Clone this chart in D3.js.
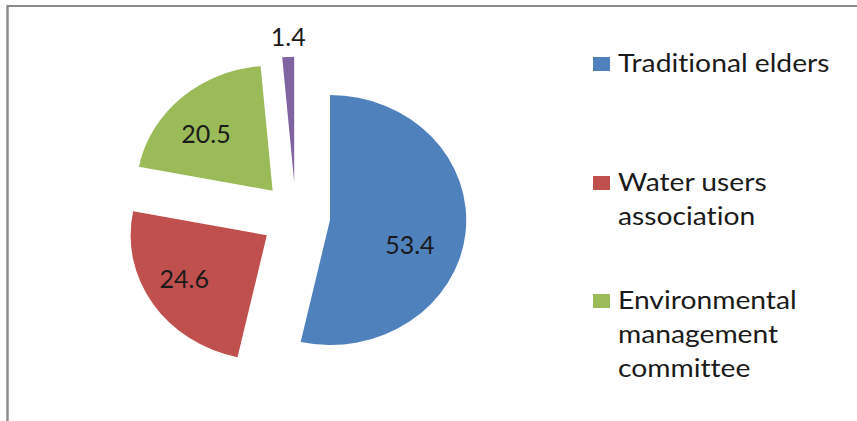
<!DOCTYPE html>
<html>
<head>
<meta charset="utf-8">
<script src="https://cdn.jsdelivr.net/npm/d3@7"></script>
<style>
  html, body { margin: 0; padding: 0; background: #fff; }
  svg { display: block; }
  text { font-variant-ligatures: none; }
</style>
</head>
<body>
<div id="app"></div>
<script>
// shares by institution (percent)
const categories = ['Traditional elders', 'Water users association', 'Environmental management committee', 'Other'];
const values = [53.4, 24.6, 20.5, 1.4];
const colors = ['#4F81BD', '#C0504D', '#9BBB59', '#8064A2'];
// legend wraps like the original box, last entry is cut off
const legendLines = [['Traditional elders'], ['Water users', 'association'], ['Environmental', 'management', 'committee']];

const W = 857, H = 421;
const R = 125, explode = 34.5, sx = 1.09;
const cx = 295.7, cy = 216.3;

const svg = d3.select('#app').append('svg')
    .attr('width', W)
    .attr('height', H);

// frame: only top and left edges are visible
svg.append('line').attr('x1', 7).attr('x2', W).attr('y1', 6).attr('y2', 6)
    .attr('stroke', '#8c8c8c').attr('stroke-width', 2);
svg.append('line').attr('x1', 7.5).attr('x2', 7.5).attr('y1', 5).attr('y2', H)
    .attr('stroke', '#8c8c8c').attr('stroke-width', 2.5);

const pie = d3.pie().sort(null).value(d => d)(values);
const arc = d3.arc().innerRadius(0).outerRadius(R);

const g = svg.append('g')
    .attr('transform', `translate(${cx},${cy})`);

const polar = (a, r) => [Math.sin(a) * r, -Math.cos(a) * r];
const mid = d => (d.startAngle + d.endAngle) / 2;

const slices = g.selectAll('g.slice')
  .data(pie)
  .enter().append('g')
    .attr('class', 'slice')
    .attr('transform', d => 'translate(' + polar(mid(d), explode) + ')');

// pie is drawn slightly wider than tall
slices.append('path')
    .attr('d', arc)
    .attr('transform', `scale(${sx},1)`)
    .attr('fill', (d, i) => colors[i]);

// data labels (best-fit placement), small slice label sits outside
const labelNudge = [12.7, 3.3, -5.4, 0.4];
const labelFrac = [0.62, 0.70, 0.665, 0];
slices.append('text')
    .attr('transform', (d, i) => {
      const a = mid(d) + labelNudge[i] * Math.PI / 180;
      const r = d.value < 5 ? R + 20 : R * labelFrac[i];
      const [x, y] = polar(a, r);
      return `translate(${x * sx},${y})`;
    })
    .attr('text-anchor', 'middle')
    .attr('dy', '0.36em')
    .style('font-family', 'Lato, "Open Sans", sans-serif')
    .style('font-size', '25px')
    .attr('fill', '#1a1a1a')
    .text(d => d.value);

// legend
const legend = svg.append('g');
const lineH = 34;
const legendTop = [72, 191, 309];
legendLines.forEach((lines, i) => {
  legend.append('rect')
      .attr('x', 593).attr('y', legendTop[i] - 15)
      .attr('width', 17).attr('height', 14)
      .attr('fill', colors[i]);
  const t = legend.append('text')
      .attr('transform', `translate(618,${legendTop[i]}) scale(1.13,1)`)
      .style('font-family', 'Lato, "Open Sans", sans-serif')
      .style('font-size', '25px')
      .attr('fill', '#1a1a1a');
  lines.forEach((s, j) => {
    t.append('tspan').attr('x', 0).attr('dy', j ? lineH : 0).text(s);
  });
});
</script>
</body>
</html>
